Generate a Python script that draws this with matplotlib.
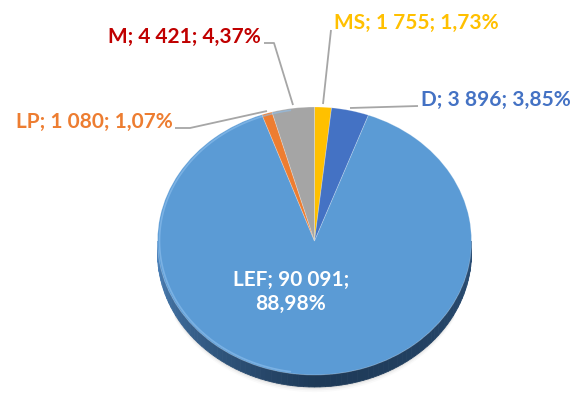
import matplotlib
matplotlib.use("Agg")
import matplotlib.pyplot as plt
import matplotlib.colors as mcolors
from matplotlib.patches import Polygon
import numpy as np

plt.rcParams['font.family'] = ['Lato', 'DejaVu Sans']

# slices, clockwise from 12 o'clock
names = ['MS', 'D', 'LEF', 'LP', 'M']
counts = [1755, 3896, 90091, 1080, 4421]
shares = ['1,73%', '3,85%', '88,98%', '1,07%', '4,37%']
counts_txt = ['1 755', '3 896', '90 091', '1 080', '4 421']
fill = ['#FFC000', '#4472C4', '#5B9BD5', '#ED7D31', '#A5A5A5']
label_col = ['#FFC000', '#4472C4', '#FFFFFF', '#ED7D31', '#C00000']

W, H = 578, 396
K = 134 / 157.0           # vertical squash of the tilted disc
CX, CY, R = 314.5, 241, 157
DEPTH = 12


def P(x, y):
    # pixel position -> data coords
    return x, (H - y) / K


fig = plt.figure(figsize=(W / 100, H / 100), dpi=100)
ax = fig.add_axes([0, 0, 1, 1])
ax.set_xlim(0, W)
ax.set_ylim(0, H / K)
ax.axis('off')

cx, cy = P(CX, CY)
dep = DEPTH / K

# faint shadow just under the front rim
t = np.linspace(1.15 * np.pi, 1.85 * np.pi, 200)
for i, a in enumerate([0.06, 0.035, 0.02]):
    g = 2 + 2 * i
    xs = np.r_[cx + R * np.cos(t), (cx + R * np.cos(t))[::-1]]
    ys = np.r_[cy - dep + R * np.sin(t) - g,
               (cy - dep + R * np.sin(t))[::-1]]
    ax.fill(xs, ys, color='black', alpha=a, lw=0, zorder=0)

# side wall of the disc, shaded by angle
light = np.array(mcolors.to_rgb('#5690cc'))
dark = np.array(mcolors.to_rgb('#1e3a58'))
right = np.array(mcolors.to_rgb('#2b4f76'))
n = 90
angs = np.linspace(np.pi, 2 * np.pi, n + 1)
for a0, a1 in zip(angs[:-1], angs[1:]):
    m = (a0 + a1) / 2
    f = (m - np.pi) / np.pi
    if f < 0.5:
        c = light + (dark - light) * (f / 0.5) ** 0.7
    else:
        c = dark + (right - dark) * ((f - 0.5) / 0.5) ** 1.5
    quad = [(cx + R * np.cos(a0), cy + R * np.sin(a0)),
            (cx + R * np.cos(a1), cy + R * np.sin(a1)),
            (cx + R * np.cos(a1), cy - dep + R * np.sin(a1)),
            (cx + R * np.cos(a0), cy - dep + R * np.sin(a0))]
    ax.add_patch(Polygon(quad, closed=True, color=c, lw=0.6, zorder=1))

wedges, _ = ax.pie(counts, colors=fill, startangle=90, counterclock=False,
                   center=(cx, cy), radius=R, frame=True,
                   wedgeprops=dict(linewidth=0.6, edgecolor='#ffffff40'))
for w in wedges:
    w.set_zorder(2)
ax.set_xlim(0, W)
ax.set_ylim(0, H / K)
ax.set_aspect('auto')
ax.axis('off')

# soft rim highlight on the top face
tt = np.linspace(0.55 * np.pi, 1.45 * np.pi, 100)
ax.plot(cx + (R - 2) * np.cos(tt), cy + (R - 2) * np.sin(tt),
        color='#8fc0ee', lw=1.2, alpha=0.6, zorder=3)

# leader lines
lead = '#A6A6A6'
lines = {
    'M': [(264, 43), (274, 43), (293, 105)],
    'MS': [(331, 30), (323, 104)],
    'D': [(350, 108), (418, 106)],
    'LP': [(175, 128), (190, 128), (267, 111)],
}
for pts in lines.values():
    xs, ys = zip(*[P(x, y) for x, y in pts])
    ax.plot(xs, ys, color=lead, lw=1.3, zorder=4, solid_capstyle='butt')

fs = 15
pos = {
    'M': (261, 37, 'right'),
    'MS': (334, 23, 'left'),
    'D': (421, 100, 'left'),
    'LP': (173, 122, 'right'),
}
for nm, c, s, col in zip(names, counts_txt, shares, label_col):
    if nm == 'LEF':
        x, y = P(291, 292)
        ax.text(x, y, f'{nm}; {c};\n{s}', color=col, fontsize=fs,
                fontweight='bold', ha='center', va='center',
                linespacing=1.3, zorder=5)
        continue
    px, py, ha = pos[nm]
    x, y = P(px, py)
    ax.text(x, y, f'{nm}; {c}; {s}', color=col, fontsize=fs,
            fontweight='bold', ha=ha, va='center', zorder=5)

fig.savefig('out.png', dpi=100)
